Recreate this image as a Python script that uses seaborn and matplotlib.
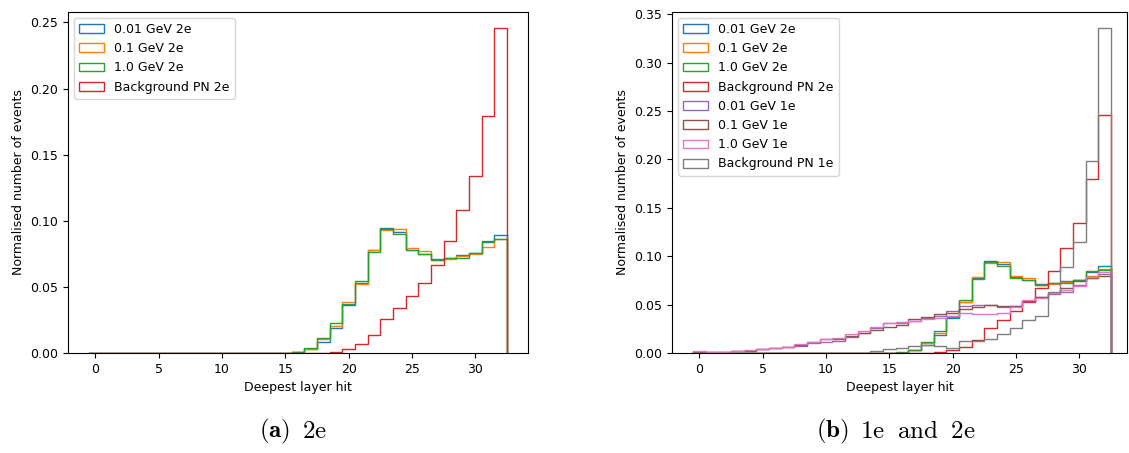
import numpy as np
import pandas as pd
import matplotlib
matplotlib.use("Agg")
import matplotlib.pyplot as plt
import seaborn as sns
from matplotlib.patches import Patch

# ---------------- data (normalised fraction of events per deepest layer) ----------------
layers = list(range(33))

labels_2e = ["0.01 GeV 2e", "0.1 GeV 2e", "1.0 GeV 2e", "Background PN 2e"]
labels_1e = ["0.01 GeV 1e", "0.1 GeV 1e", "1.0 GeV 1e", "Background PN 1e"]

sig_001_2e = [0, 0, 0, 0, 0, 0, 0, 0, 0, 0, 0, 0, 0, 0, 0, 0,
              0.0005, 0.003, 0.0083, 0.0186, 0.0362, 0.053, 0.0777, 0.0948, 0.0915,
              0.078, 0.0752, 0.0714, 0.0722, 0.074, 0.0759, 0.084, 0.0895]
sig_01_2e = [0, 0, 0, 0, 0, 0, 0, 0, 0, 0, 0, 0, 0, 0, 0, 0,
             0.0005, 0.003, 0.0103, 0.0204, 0.0382, 0.0525, 0.0782, 0.0933, 0.094,
             0.0797, 0.077, 0.070, 0.0714, 0.0732, 0.0752, 0.080, 0.0863]
sig_10_2e = [0, 0, 0, 0, 0, 0, 0, 0, 0, 0, 0, 0, 0, 0, 0, 0,
             0.0007, 0.0035, 0.011, 0.0224, 0.037, 0.0545, 0.0765, 0.094, 0.0903,
             0.0777, 0.0752, 0.070, 0.072, 0.0722, 0.0759, 0.085, 0.086]
bkg_2e = [0, 0, 0, 0, 0, 0, 0, 0, 0, 0, 0, 0, 0, 0, 0, 0, 0, 0, 0,
          0.0006, 0.0028, 0.0065, 0.0136, 0.0254, 0.0344, 0.0432, 0.053, 0.0669,
          0.0847, 0.108, 0.134, 0.1795, 0.246]

sig_001_1e = [0.0012, 0.0008, 0.001, 0.0017, 0.0024, 0.0038, 0.0048, 0.0058, 0.0075,
              0.010, 0.0115, 0.0125, 0.0165, 0.021, 0.0255, 0.0305, 0.0305, 0.033,
              0.0365, 0.0385, 0.0435, 0.049, 0.0495, 0.0495, 0.048, 0.049, 0.054,
              0.0575, 0.061, 0.063, 0.070, 0.077, 0.082]
sig_01_1e = [0.001, 0.0008, 0.0012, 0.0018, 0.0025, 0.004, 0.0048, 0.006, 0.008,
             0.011, 0.014, 0.0145, 0.0175, 0.021, 0.024, 0.0265, 0.0285, 0.0355,
             0.0375, 0.0405, 0.0415, 0.0455, 0.048, 0.0495, 0.0485, 0.049, 0.054,
             0.058, 0.062, 0.067, 0.074, 0.077, 0.080]
sig_10_1e = [0.0018, 0.0008, 0.001, 0.0022, 0.0028, 0.0042, 0.005, 0.0065, 0.0093,
             0.0113, 0.0148, 0.016, 0.0195, 0.0225, 0.027, 0.0305, 0.032, 0.033,
             0.035, 0.0365, 0.0385, 0.0415, 0.0405, 0.040, 0.041, 0.048, 0.055,
             0.057, 0.0615, 0.065, 0.069, 0.078, 0.0835]
bkg_1e = [0, 0, 0, 0, 0, 0, 0, 0, 0, 0, 0, 0, 0,
          0.0005, 0.002, 0.004, 0.0055, 0.007, 0.008, 0.007, 0.005, 0.0127, 0.012,
          0.014, 0.020, 0.026, 0.034, 0.038, 0.063, 0.089, 0.1145, 0.198, 0.336]

caption_tags = [r"$\mathbf{(a)}$", r"$\mathbf{(b)}$"]
caption_texts = [r"$\mathrm{2e}$", r"$\mathrm{1e\;\ and\;\ 2e}$"]
xlabel = "Deepest layer hit"
ylabel = "Normalised number of events"

# ---------------- figure ----------------
palette = sns.color_palette("tab10", 8)
fs = 9
plt.rcParams.update({"font.size": fs, "axes.labelsize": fs,
                     "xtick.labelsize": fs, "ytick.labelsize": fs,
                     "legend.fontsize": fs})

W, H = 1129, 453
fig = plt.figure(figsize=(W / 100, H / 100), dpi=100)
ax_a = fig.add_axes([68 / W, 100 / H, 460 / W, 341.5 / H])
ax_b = fig.add_axes([672 / W, 100 / H, 455 / W, 341.5 / H])

edges = [l - 0.5 for l in layers] + [layers[-1] + 0.5]


def draw(ax, series, names, colors):
    handles = []
    for vals, name, c in zip(series, names, colors):
        df = pd.DataFrame({"layer": layers, "frac": vals})
        sns.histplot(data=df, x="layer", weights="frac", bins=edges,
                     element="step", fill=False, color=c, linewidth=1.0, ax=ax)
        ax.vlines([edges[0], edges[-1]], 0, [vals[0], vals[-1]], color=c, lw=1.0)
        handles.append(Patch(facecolor="none", edgecolor=c, linewidth=1.0, label=name))
    top = max(max(v) for v in series)
    ax.set_ylim(0, top * 1.05)
    ax.set_xlabel(xlabel)
    ax.set_ylabel(ylabel)
    ax.legend(handles=handles, loc="upper left")


span = edges[-1] - edges[0]

draw(ax_a, [sig_001_2e, sig_01_2e, sig_10_2e, bkg_2e], labels_2e, palette[:4])
ax_a.set_xlim(edges[0] - 0.05 * span, edges[-1] + 0.05 * span)

draw(ax_b, [sig_001_2e, sig_01_2e, sig_10_2e, bkg_2e,
            sig_001_1e, sig_01_1e, sig_10_1e, bkg_1e],
     labels_2e + labels_1e, palette[:8])
ax_b.set_xlim(edges[0] - 0.05 * span, edges[0] - 0.05 * span + 455 / 460 * 1.1 * span)

# captions: bold tag right-aligned, description left-aligned after a gap
cap_y = 1 - 437.5 / H
for tag_end, txt_start, tag, txt in [(290, 302, caption_tags[0], caption_texts[0]),
                                     (849, 860, caption_tags[1], caption_texts[1])]:
    fig.text(tag_end / W, cap_y, tag, ha="right", va="baseline",
             fontsize=18, math_fontfamily="cm")
    fig.text(txt_start / W, cap_y, txt, ha="left", va="baseline",
             fontsize=18, math_fontfamily="cm")

fig.savefig("out.png", dpi=100)
